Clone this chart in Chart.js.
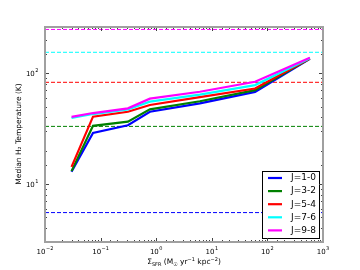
<!DOCTYPE html>
<html>
<head>
<meta charset="utf-8">
<script src="https://cdn.jsdelivr.net/npm/chart.js@4.4.1/dist/chart.umd.min.js"></script>
<style>
  html, body { margin: 0; padding: 0; background: #fff; }
  #wrap { width: 360px; height: 270px; }
</style>
</head>
<body>
<div id="wrap"><canvas id="tempChart" width="360" height="270"></canvas></div>
<script>
// star formation rate surface density bins (x)
const sfr = [0.03, 0.073, 0.31, 0.77, 6.1, 60, 580];

// median H2 temperature per CO line
const tJ10 = [12.9, 29, 34, 45, 53.5, 68, 135];
const tJ32 = [13.1, 33.6, 36.6, 47.3, 56, 70.5, 136];
const tJ54 = [14.3, 40.6, 45, 51.8, 61, 73, 136];
const tJ76 = [39.5, 42.9, 47.1, 55.5, 64.3, 78.3, 137];
const tJ98 = [40.4, 43.8, 48.3, 59.1, 68.2, 84, 138];

// upper level energies (dashed guides)
const eUpper = [5.53, 33.19, 82.97, 154.87, 248.9];

const lineNames = ['J=1-0', 'J=3-2', 'J=5-4', 'J=7-6', 'J=9-8'];
const lineColors = ['#0000ff', '#008000', '#ff0000', '#00ffff', '#ff00ff'];
const series = [tJ10, tJ32, tJ54, tJ76, tJ98];

const xMin = 0.01, xMax = 1000;
const yMin = 3, yMax = 262;

function isPow10(v) {
    const l = Math.log10(v);
    return Math.abs(l - Math.round(l)) < 1e-6;
}
function expOf(v) {
    return Math.round(Math.log10(v));
}

const datasets = [];
// dashed guides, drawn underneath
eUpper.forEach((e, i) => {
    datasets.push({
        label: 'E' + i,
        data: [{ x: xMin, y: e }, { x: xMax, y: e }],
        borderColor: lineColors[i],
        borderWidth: 1,
        borderDash: [4, 2],
        pointRadius: 0,
        order: 20 + i
    });
});
series.forEach((s, i) => {
    datasets.push({
        label: lineNames[i],
        data: s.map((v, k) => ({ x: sfr[k], y: v })),
        borderColor: lineColors[i],
        borderWidth: 2.2,
        pointRadius: 0,
        tension: 0,
        order: 10 - i
    });
});

// "10" with a raised exponent, like matplotlib mathtext
function drawPow(ctx, e, x, y, align) {
    const base = '10', sup = String(e).replace('-', '\u2212');
    ctx.font = '7px "DejaVu Sans"';
    const wb = ctx.measureText(base).width;
    ctx.font = '5px "DejaVu Sans"';
    const ws = ctx.measureText(sup).width;
    const w = wb + ws + 0.5;
    let x0 = align === 'right' ? x - w : x - w / 2;
    ctx.textAlign = 'left';
    ctx.textBaseline = 'alphabetic';
    ctx.font = '7px "DejaVu Sans"';
    ctx.fillText(base, x0, y);
    ctx.font = '5px "DejaVu Sans"';
    ctx.fillText(sup, x0 + wb + 0.5, y - 3.5);
}

const framePlugin = {
    id: 'frame',
    afterDatasetsDraw(chart) {
        const ctx = chart.ctx;
        // legend box
        const bx = 262, by = 171, bw = 57, bh = 67;
        ctx.save();
        ctx.fillStyle = '#fff';
        ctx.fillRect(bx, by, bw, bh);
        ctx.strokeStyle = '#000';
        ctx.lineWidth = 1;
        ctx.strokeRect(bx + 0.5, by + 0.5, bw, bh);
        ctx.font = '9px "DejaVu Sans"';
        ctx.textBaseline = 'middle';
        ctx.fillStyle = '#000';
        lineNames.forEach((n, i) => {
            const yy = 178 + i * 13.1;
            ctx.strokeStyle = lineColors[i];
            ctx.lineWidth = 2.2;
            ctx.beginPath();
            ctx.moveTo(268, yy);
            ctx.lineTo(282, yy);
            ctx.stroke();
            ctx.fillText(n, 291, yy);
        });
        ctx.restore();
    },
    afterDraw(chart) {
        const ctx = chart.ctx;
        const { left, right, top, bottom } = chart.chartArea;
        const xs = chart.scales.x, ys = chart.scales.y;
        ctx.save();
        ctx.strokeStyle = '#444';
        ctx.lineWidth = 1;
        xs.ticks.forEach(t => {
            const px = Math.round(xs.getPixelForValue(t.value)) + 0.5;
            const len = isPow10(t.value) ? 4 : 2;
            ctx.beginPath();
            ctx.moveTo(px, bottom); ctx.lineTo(px, bottom - len);
            ctx.moveTo(px, top); ctx.lineTo(px, top + len);
            ctx.stroke();
        });
        ys.ticks.forEach(t => {
            const py = Math.round(ys.getPixelForValue(t.value)) + 0.5;
            const len = isPow10(t.value) ? 4 : 2;
            ctx.beginPath();
            ctx.moveTo(left, py); ctx.lineTo(left + len, py);
            ctx.moveTo(right, py); ctx.lineTo(right - len, py);
            ctx.stroke();
        });
        // axes frame
        ctx.strokeStyle = '#a0a0a0';
        ctx.lineWidth = 2;
        ctx.strokeRect(left, top, right - left, bottom - top);

        // tick labels
        ctx.fillStyle = '#000';
        xs.ticks.forEach(t => {
            if (!isPow10(t.value)) return;
            drawPow(ctx, expOf(t.value), xs.getPixelForValue(t.value), bottom + 11.5, 'center');
        });
        ys.ticks.forEach(t => {
            if (!isPow10(t.value)) return;
            drawPow(ctx, expOf(t.value), left - 6.5, ys.getPixelForValue(t.value) + 2.5, 'right');
        });

        // y title
        ctx.font = '7.5px "DejaVu Sans"';
        ctx.textAlign = 'center';
        ctx.textBaseline = 'middle';
        ctx.save();
        ctx.translate(19, 134);
        ctx.rotate(-Math.PI / 2);
        ctx.fillText('Median H\u2082 Temperature (K)', 0, 0);
        ctx.restore();

        // x title with sub/superscripts
        const parts = [
            ['\u03A3', 7.5, 0], ['SFR', 5, 2], [' (M', 7.5, 0], ['\u2609', 5, 2],
            [' yr', 7.5, 0], ['\u22121', 5, -3], [' kpc', 7.5, 0], ['\u22122', 5, -3], [')', 7.5, 0]
        ];
        ctx.textAlign = 'left';
        ctx.textBaseline = 'alphabetic';
        let w = 0;
        parts.forEach(p => { ctx.font = p[1] + 'px "DejaVu Sans"'; w += ctx.measureText(p[0]).width; });
        let x0 = 184 - w / 2;
        parts.forEach(p => {
            ctx.font = p[1] + 'px "DejaVu Sans"';
            ctx.fillText(p[0], x0, 264 + p[2]);
            x0 += ctx.measureText(p[0]).width;
        });
        ctx.restore();
    }
};

new Chart(document.getElementById('tempChart'), {
    type: 'line',
    data: { datasets: datasets },
    options: {
        responsive: false,
        animation: false,
        layout: { padding: { left: 0, right: 37, top: 27, bottom: 0 } },
        plugins: { legend: { display: false }, tooltip: { enabled: false } },
        scales: {
            x: {
                type: 'logarithmic',
                min: xMin,
                max: xMax,
                grid: { display: false, drawTicks: false },
                border: { display: false },
                ticks: { autoSkip: false, maxRotation: 0, callback: () => '' },
                afterFit: s => { s.height = 28; }
            },
            y: {
                type: 'logarithmic',
                min: yMin,
                max: yMax,
                grid: { display: false, drawTicks: false },
                border: { display: false },
                ticks: { autoSkip: false, callback: () => '' },
                afterFit: s => { s.width = 45; }
            }
        }
    },
    plugins: [framePlugin]
});
</script>
</body>
</html>
